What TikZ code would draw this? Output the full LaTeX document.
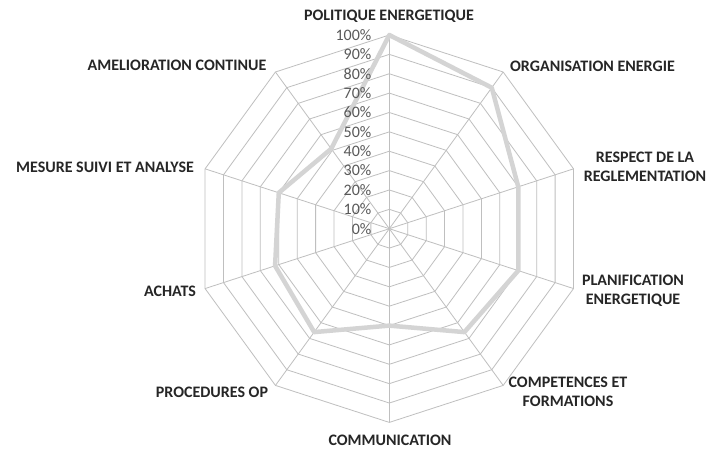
\documentclass[tikz,border=0pt]{standalone}
\usepackage{fontspec}
\setmainfont{Carlito}
\begin{document}
\begin{tikzpicture}[x=1pt,y=-1pt]
\definecolor{gridc}{HTML}{BFBFBF}
\definecolor{datac}{HTML}{D4D4D4}
\definecolor{labc}{HTML}{262626}
\definecolor{tickc}{HTML}{595959}
\tikzset{
  gridline/.style={draw=gridc, line width=0.8pt},
  dataline/.style={draw=datac, line width=4.5pt, line join=round},
  catlabel/.style={font=\fontsize{16}{19}\selectfont\bfseries, text=labc, align=center, inner sep=0pt},
  ticklabel/.style={font=\fontsize{16}{19}\selectfont, text=tickc, anchor=east, inner sep=0pt}
}
\fill[white] (0,0) rectangle (709,450);
\useasboundingbox (0,0) rectangle (709,450);
\coordinate (C) at (389.3,228.7);
\begin{scope}[shift={(C)}, yscale=-1]
  % rings
  \foreach \k in {1,...,10} {
    \pgfmathsetmacro{\r}{19.37*\k}
    \draw[gridline] (90:\r) -- (54:\r) -- (18:\r) -- (-18:\r) -- (-54:\r) -- (-90:\r) -- (-126:\r) -- (-162:\r) -- (162:\r) -- (126:\r) -- cycle;
  }
  % spokes
  \foreach \a in {90,54,18,-18,-54,-90,-126,-162,162,126} {
    \draw[gridline] (0,0) -- (\a:193.7);
  }
  % data
  \coordinate (d1) at (90:193.7);
  \coordinate (d2) at (54:174.3);
  \coordinate (d3) at (18:135.6);
  \coordinate (d4) at (-18:135.6);
  \coordinate (d5) at (-54:127.8);
  \coordinate (d6) at (-90:96.9);
  \coordinate (d7) at (-126:127.8);
  \coordinate (d8) at (-162:120.1);
  \coordinate (d9) at (162:116.2);
  \coordinate (d10) at (126:98.8);
  \draw[dataline] (d1) -- (d2) -- (d3) -- (d4) -- (d5) -- (d6) -- (d7) -- (d8) -- (d9) -- (d10) -- cycle;
\end{scope}
% tick labels
\foreach \k in {0,...,10} {
  \node[ticklabel] (t\k) at (371.5, {228.7-19.37*\k}) {\the\numexpr\k*10\relax\%};
}
% category labels
\node[catlabel] (l1) at (389,16) {POLITIQUE ENERGETIQUE};
\node[catlabel] (l2) at (592.5,66) {ORGANISATION ENERGIE};
\node[catlabel] (l3) at (645,166.5) {RESPECT DE LA\\REGLEMENTATION};
\node[catlabel] (l4) at (633,290.5) {PLANIFICATION\\ENERGETIQUE};
\node[catlabel] (l5) at (568,391.5) {COMPETENCES ET\\FORMATIONS};
\node[catlabel] (l6) at (390,440) {COMMUNICATION};
\node[catlabel] (l7) at (212,392) {PROCEDURES OP};
\node[catlabel] (l8) at (170,291) {ACHATS};
\node[catlabel] (l9) at (105,167) {MESURE SUIVI ET ANALYSE};
\node[catlabel] (l10) at (177,65) {AMELIORATION CONTINUE};
\end{tikzpicture}
\end{document}
